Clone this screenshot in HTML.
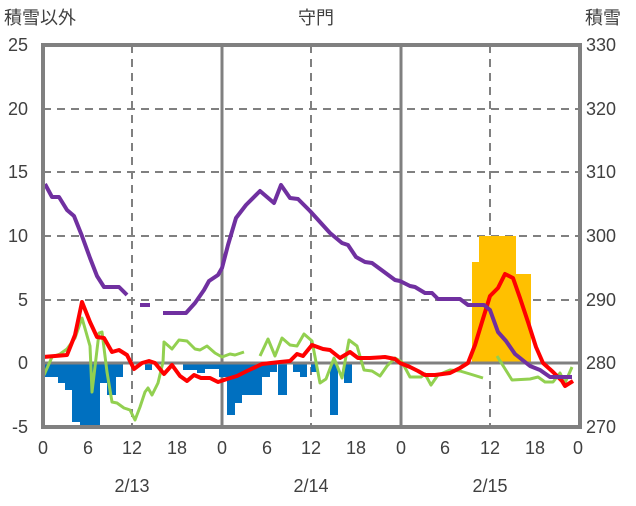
<!DOCTYPE html><html><head><style>body{margin:0;background:#fff}svg{font-family:"Liberation Sans","Noto Sans CJK JP",sans-serif}</style></head><body>
<svg width="636" height="501" viewBox="0 0 636 501">
<rect width="636" height="501" fill="#fff"/>
<g stroke="#808080" stroke-width="2" stroke-dasharray="8,6">
<line x1="43" y1="109" x2="580" y2="109"/><line x1="43" y1="172" x2="580" y2="172"/><line x1="43" y1="236" x2="580" y2="236"/><line x1="43" y1="300" x2="580" y2="300"/>
<line x1="132" y1="45" x2="132" y2="427"/><line x1="311" y1="45" x2="311" y2="427"/><line x1="490" y1="45" x2="490" y2="427"/>
</g>
<g stroke="#808080" stroke-width="3"><line x1="222" y1="45" x2="222" y2="427"/><line x1="401" y1="45" x2="401" y2="427"/></g>
<g fill="#0070c0">
<rect x="43" y="363" width="15" height="14"/><rect x="58" y="363" width="7" height="20"/><rect x="65" y="363" width="7" height="27"/><rect x="72" y="363" width="8" height="59"/><rect x="80" y="363" width="20" height="64"/><rect x="100" y="363" width="7" height="20"/><rect x="107" y="363" width="9" height="32"/><rect x="116" y="363" width="7" height="14"/>
<rect x="145" y="363" width="7" height="7"/><rect x="183" y="363" width="14" height="7"/><rect x="197" y="363" width="8" height="10"/><rect x="205" y="363" width="14" height="6"/><rect x="219" y="363" width="8" height="14"/>
<rect x="227" y="363" width="8" height="52"/><rect x="235" y="363" width="7" height="40"/><rect x="242" y="363" width="20" height="32"/><rect x="262" y="363" width="8" height="14"/><rect x="270" y="363" width="7" height="9"/><rect x="278" y="363" width="9" height="32"/><rect x="293" y="363" width="7" height="9"/><rect x="300" y="363" width="7" height="14"/><rect x="311" y="363" width="7" height="9"/><rect x="330" y="363" width="8" height="52"/><rect x="344" y="363" width="8" height="20"/>
</g>
<g fill="#ffc000"><rect x="472" y="262" width="8" height="101"/><rect x="479" y="236" width="37" height="127"/><rect x="516" y="274" width="15" height="89"/></g>
<line x1="43" y1="363" x2="580" y2="363" stroke="#808080" stroke-width="3"/>
<g fill="none" stroke-width="3" stroke-linejoin="round">
<g stroke="#92d050">
<polyline points="44,375 52,357 60,354 67,349 75,338 82,318 90,346 92,392 99,333 102,332 107,372 112,402 117,403 124,408 130,410 135,420 140,407 145,392 148,388 152,395 158,383 163,362 164,342 172,349 179,340 187,341 195,349 200,350 207,346 215,353 222,357 230,354 235,355 244,352"/>
<polyline points="260,356 268,339 275,356 282,338 290,345 297,346 304,334 312,341 320,383 326,379 334,358 342,378 349,340 357,346 364,370 372,371 380,376 387,366 395,358 402,362 410,377 421,377 425,374 431,385 438,375 450,370 460,371 470,374 483,378"/>
<polyline points="497,356 512,380 530,379 538,377 545,382 553,382 560,373 565,383 572,367"/>
</g>
<polyline stroke="#ff0000" stroke-width="4" points="43,357 55,356 67,355 75,335 82,302 90,322 97,337 104,338 112,352 119,350 127,355 134,369 142,363 149,361 155,363 164,374 172,365 180,376 187,381 194,375 201,378 210,378 218,382 227,379 237,376 247,371 262,364 280,362 290,361 297,354 303,356 312,345 323,349 330,350 340,358 350,352 358,358 370,358 385,357 395,359 400,363 410,367 418,371 425,375 435,375 450,373 460,368 468,363 475,345 482,322 490,296 498,288 505,274 513,278 520,298 528,322 536,347 543,363 553,372 562,381 565,386 573,381"/>
<g stroke="#7030a0" stroke-width="4">
<polyline points="45,184 52,197 59,197 67,210 74,216 82,236 90,258 97,276 104,287 112,287 119,287 127,295"/>
<polyline points="140,305 150,305"/>
<polyline points="163,313 186,313 195,303 204,290 209,281 218,275 222,268 228,245 236,218 246,205 260,191 274,203 281,185 290,198 298,199 310,211 320,222 330,233 342,243 348,245 356,257 365,262 372,263 395,280 400,281 410,286 415,287 425,293 432,293 438,299 460,299 468,305 484,305 490,310 498,332 506,341 515,354 530,366 540,370 550,377 572,377"/>
</g>
</g>
<rect x="43" y="45" width="537" height="382" fill="none" stroke="#808080" stroke-width="4"/>
<g font-size="18" fill="#404040" text-anchor="end">
<text x="28" y="51">25</text><text x="28" y="115">20</text><text x="28" y="178">15</text><text x="28" y="242">10</text><text x="28" y="306">5</text><text x="28" y="369">0</text><text x="28" y="433">-5</text>
</g>
<g font-size="18" fill="#404040" text-anchor="start">
<text x="586" y="51">330</text><text x="586" y="115">320</text><text x="586" y="178">310</text><text x="586" y="242">300</text><text x="586" y="306">290</text><text x="586" y="369">280</text><text x="586" y="433">270</text>
</g>
<g font-size="18" fill="#404040" text-anchor="middle">
<text x="43" y="454">0</text><text x="88" y="454">6</text><text x="132" y="454">12</text><text x="177" y="454">18</text><text x="222" y="454">0</text><text x="267" y="454">6</text><text x="311" y="454">12</text><text x="356" y="454">18</text><text x="401" y="454">0</text><text x="445" y="454">6</text><text x="490" y="454">12</text><text x="535" y="454">18</text><text x="578" y="454">0</text>
<text x="132" y="492">2/13</text><text x="311" y="492">2/14</text><text x="490" y="492">2/15</text>
<text x="316" y="24">守門</text>
</g>
<text x="4" y="24" font-size="18" fill="#404040">積雪以外</text>
<text x="585" y="24" font-size="18" fill="#404040">積雪</text>
</svg></body></html>
